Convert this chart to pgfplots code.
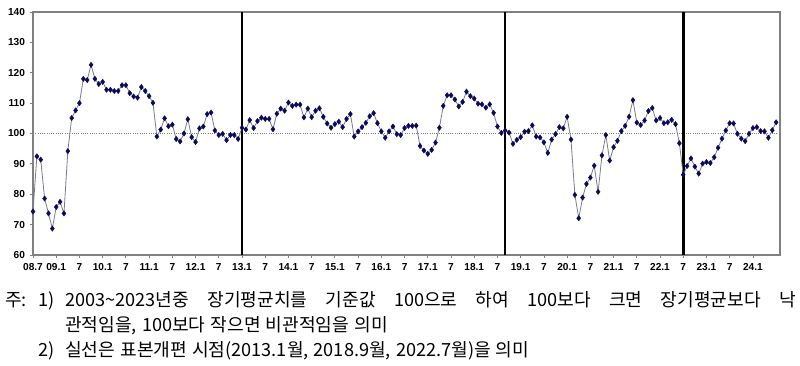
\documentclass[border=0pt]{standalone}
\usepackage{pgfplots}
\pgfplotsset{compat=1.18}
\usepackage{fontspec}
\setmainfont{Liberation Serif}
\setsansfont{Liberation Sans}
\newfontfamily\kr[WordSpace=1.25]{Noto Sans CJK KR}
\definecolor{navy}{HTML}{0A0A5C}
\definecolor{linegray}{HTML}{7A7A8A}
\definecolor{framegray}{HTML}{808080}

\begin{document}
\begin{tikzpicture}
\useasboundingbox (0,0) rectangle (600pt,273.75pt);
\begin{axis}[
 at={(24.75pt,82.5pt)}, anchor=south west,
 scale only axis, width=560.25pt, height=182.25pt,
 xmin=0, xmax=193, ymin=60, ymax=140,
 ytick={60,70,...,140},
 xtick={0,6,...,186},
 xticklabels={08.7,09.1,7,10.1,7,11.1,7,12.1,7,13.1,7,14.1,7,15.1,7,16.1,7,17.1,7,18.1,7,19.1,7,20.1,7,21.1,7,22.1,7,23.1,7,24.1},
 xtick pos=left, ytick pos=left,
 tick align=outside, major tick length=2.5pt,
 tick style={framegray, line width=0.6pt},
 axis line style={draw=framegray, line width=0.9pt},
 ticklabel style={font=\sffamily\bfseries\fontsize{7.6}{9}\selectfont, text=black},
 /pgf/number format/assume math mode=true,
 clip=false,
]
\addplot[framegray, densely dotted, line width=0.7pt] coordinates {(0,100) (193,100)};
\addplot[black, line width=1.1pt] coordinates {(54,60) (54,140)};
\addplot[black, line width=1.1pt] coordinates {(122,60) (122,140)};
\addplot[black, line width=1.9pt] coordinates {(168,60) (168,140)};
\addplot[linegray, line width=0.6pt, mark=diamond*, mark size=2pt,
  mark options={draw=navy, fill=navy, line width=0.3pt}]
 table[x expr=\coordindex, y=y] {
y
74.3
92.5
91.4
78.6
73.7
68.7
75.8
77.5
73.7
94.2
105.1
107.6
110.0
118.0
117.6
122.6
118.0
116.3
117.0
114.4
114.4
114.0
114.0
115.9
115.9
113.3
112.2
111.8
115.3
114.0
112.3
110.1
99.0
101.3
105.0
102.4
102.9
98.2
97.4
100.0
104.7
98.8
97.2
101.7
102.3
106.4
106.9
101.0
99.5
99.9
97.8
99.5
99.5
98.2
101.9
101.3
104.4
101.8
104.1
105.2
104.8
104.8
101.4
106.5
108.2
107.5
110.2
109.1
109.5
109.5
105.3
108.2
105.4
107.5
108.3
105.5
103.3
101.9
103.1
103.9
102.1
104.8
106.4
99.0
100.7
102.1
103.5
105.7
106.7
103.4
100.7
98.6
100.7
102.3
99.8
99.5
101.8
102.5
102.5
102.6
95.9
94.4
93.3
94.6
97.0
101.9
109.1
112.6
112.6
111.2
108.9
110.4
113.8
112.3
111.5
109.8
109.6
108.5
109.6
106.8
102.3
100.2
101.0
100.3
96.6
97.9
98.8
100.6
100.8
102.7
99.0
98.7
97.1
93.6
98.0
99.8
102.1
101.7
105.5
98.0
79.8
72.1
78.9
83.4
85.5
89.4
80.8
92.8
99.5
91.1
95.5
97.6
100.8
102.5
105.5
111.0
103.6
102.8
104.3
107.4
108.4
104.3
105.1
103.4
103.7
104.5
103.1
96.8
86.4
89.3
91.8
89.1
86.8
90.1
90.6
90.3
92.2
95.3
98.3
101.0
103.4
103.3
99.9
98.3
97.5
99.9
101.8
102.1
100.8
100.7
98.6
101.1
103.7
};
\end{axis}
\begin{scope}[x=0.75pt,y=0.75pt, every node/.style={inner sep=0pt, anchor=base west, font=\kr\fontsize{13.6}{16}\selectfont}]
\node at (5,59) {주:};
\node at (38,59) {1)};
\node at (65,59) {\makebox[548pt][s]{2003\textasciitilde2023년중 장기평균치를 기준값 100으로 하여 100보다 크면 장기평균보다 낙}};
\node at (65,34) {관적임을, 100보다 작으면 비관적임을 의미};
\node at (38,9) {2)};
\node at (65,9) {실선은 표본개편 시점(2013.1월, 2018.9월, 2022.7월)을 의미};
\end{scope}
\end{tikzpicture}
\end{document}
